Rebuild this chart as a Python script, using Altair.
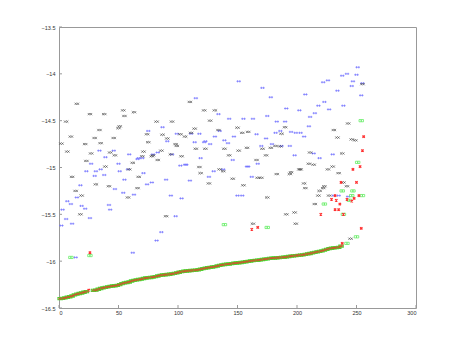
import altair as alt
import pandas as pd

# ---------------- data ----------------
black_x = [2, 6, 7, 10, 11, 14, 15, 18, 19, 22, 23, 26, 27, 30, 31, 34, 35, 38, 39, 42, 43, 46, 47,
           50, 51, 54, 55, 58, 59, 62, 63, 66, 67, 70, 71, 74, 75, 78, 79, 82, 83, 86, 87, 90, 91,
           94, 95, 98, 99, 102, 103, 106, 110, 111, 114, 115, 118, 119, 122, 123, 126, 127, 131,
           134, 135, 138, 139, 143, 146, 150, 151, 154, 155, 158, 159, 163, 166, 167, 170, 171,
           174, 175, 178, 182, 183, 186, 187, 190, 191, 194, 195, 198, 199, 202, 203, 206, 207,
           210, 211, 214, 215, 218, 219, 222, 223, 226, 227, 230, 231, 234, 235, 238, 239, 242,
           243, 246, 249, 245, 255]
black_y = [-14.745, -14.51, -14.83, -14.67, -15.10, -15.25, -14.32, -15.50, -15.30, -14.75, -14.93,
           -14.43, -14.85, -14.685, -15.18, -14.60, -14.74, -14.43, -14.99, -15.20, -14.84, -14.685,
           -14.87, -14.58, -14.56, -14.39, -14.45, -15.32, -15.02, -14.95, -14.41, -15.22, -15.10,
           -14.88, -14.83, -14.645, -14.73, -14.88, -14.87, -14.51, -14.92, -14.82, -14.65, -15.52,
           -14.69, -14.86, -14.51, -14.75, -14.77, -14.645, -14.88, -14.67, -14.30, -14.63, -14.585,
           -14.80, -14.995, -15.06, -14.39, -14.80, -15.17, -14.50, -14.39, -14.60, -15.02, -15.04,
           -14.80, -14.87, -15.12, -14.575, -14.82, -14.63, -15.19, -14.79, -14.62, -15.60, -14.92,
           -15.11, -15.11, -14.80, -14.87, -15.32, -14.79, -14.77, -15.07, -14.775, -14.64, -14.57,
           -15.50, -15.07, -15.05, -15.48, -15.60, -15.02, -15.02, -15.17, -15.22, -14.96, -14.84,
           -14.97, -15.39, -15.30, -15.25, -15.22, -15.20, -15.02, -15.30, -14.99, -14.60, -14.68,
           -15.06, -14.85, -15.16, -15.20, -14.53, -14.70, -14.71, -15.76, -14.11]

blue_x = [2, 3, 6, 7, 10, 11, 14, 15, 18, 19, 22, 23, 26, 27, 30, 31, 34, 35, 38, 39, 42, 43, 46, 47,
          50, 51, 54, 55, 58, 59, 62, 63, 66, 67, 70, 71, 74, 75, 78, 79, 82, 83, 86, 87, 90, 91,
          94, 95, 98, 99, 102, 103, 106, 107, 110, 111, 114, 115, 118, 119, 122, 123, 126, 127,
          130, 131, 134, 135, 138, 139, 142, 143, 146, 147, 150, 151, 154, 155, 158, 159, 162,
          163, 166, 167, 170, 171, 174, 175, 178, 179, 182, 183, 186, 187, 190, 191, 194, 195,
          198, 199, 202, 203, 206, 207, 210, 211, 214, 215, 218, 219, 222, 223, 226, 227, 230,
          231, 234, 235, 238, 239, 242, 243, 246, 247, 250, 251, 254, 255]
blue_y = [-15.62, -15.45, -15.55, -15.36, -15.39, -15.60, -15.96, -15.32, -15.19, -15.41, -15.44,
          -15.04, -15.54, -14.96, -15.09, -15.04, -14.82, -15.02, -15.08, -14.89, -15.40, -15.45,
          -14.82, -15.23, -14.96, -15.04, -15.27, -15.13, -15.02, -14.86, -15.91, -15.29, -14.91,
          -14.90, -14.90, -15.06, -15.18, -14.61, -15.16, -14.86, -15.78, -14.84, -15.69, -14.57,
          -15.13, -14.72, -15.30, -14.86, -15.52, -14.64, -14.98, -15.33, -14.97, -14.97, -15.14,
          -14.64, -14.73, -14.26, -14.64, -14.90, -14.73, -14.72, -15.10, -14.75, -15.04, -14.67,
          -14.43, -14.61, -15.02, -14.71, -14.74, -14.48, -14.92, -14.67, -15.30, -14.08, -15.30,
          -14.48, -14.99, -14.99, -15.10, -14.48, -14.645, -14.96, -14.77, -14.15, -14.69, -14.45,
          -14.25, -14.75, -14.63, -14.51, -14.61, -14.77, -14.51, -14.37, -14.77, -14.62, -14.87,
          -14.63, -14.39, -14.63, -14.67, -14.22, -14.56, -14.46, -14.85, -14.42, -14.34, -14.90,
          -14.09, -14.30, -14.07, -14.38, -14.86, -15.30, -14.18, -15.30, -14.02, -14.34, -14.00,
          -15.31, -14.13, -14.08, -14.01, -13.93, -14.23, -14.10]

green_x = [10, 26, 139, 175, 223, 238, 239, 244, 246, 247, 251, 254, 255, 250, 242]
green_y = [-15.96, -15.94, -15.61, -15.64, -15.39, -15.25, -15.50, -15.35, -15.30, -15.25, -14.945,
           -14.50, -15.30, -15.74, -15.81]

red_x = [26, 162, 167, 220, 229, 232, 232, 233, 235, 236, 237, 238, 242, 246, 247, 248, 250, 252,
         253, 255, 256, 254, 239, 25]
red_y = [-15.91, -15.66, -15.64, -15.50, -15.34, -15.30, -15.45, -15.35, -15.45, -15.39, -15.16,
         -15.81, -15.34, -15.36, -15.02, -15.33, -15.16, -15.30, -14.99, -14.82, -14.67, -15.65,
         -15.50, -16.31]

band_x = [1, 3, 5, 7, 9, 11, 13, 15, 17, 19, 21, 23, 29, 31, 33, 35, 37, 39, 41, 43, 45, 47, 49,
          51, 53, 55, 57, 59, 61, 63, 65, 67, 69, 71, 73, 75, 77, 79, 81, 83, 85, 87, 89, 91, 93,
          95, 97, 99, 101, 103, 105, 107, 109, 111, 113, 115, 117, 119, 121, 123, 125, 127, 129,
          131, 133, 135, 137, 139, 141, 143, 145, 147, 149, 151, 153, 155, 157, 159, 161, 163,
          165, 167, 169, 171, 173, 175, 177, 179, 181, 183, 185, 187, 189, 191, 193, 195, 197,
          199, 201, 203, 205, 207, 209, 211, 213, 215, 217, 219, 221, 223, 225, 227, 229, 231,
          233, 235, 237]
band_y = [-16.400, -16.398, -16.392, -16.385, -16.380, -16.372, -16.360, -16.352, -16.345, -16.340,
          -16.332, -16.325, -16.312, -16.310, -16.300, -16.292, -16.285, -16.280, -16.275, -16.270,
          -16.265, -16.262, -16.258, -16.250, -16.240, -16.232, -16.228, -16.222, -16.212, -16.205,
          -16.200, -16.196, -16.192, -16.185, -16.180, -16.176, -16.174, -16.170, -16.165, -16.158,
          -16.152, -16.148, -16.145, -16.142, -16.140, -16.136, -16.130, -16.125, -16.118, -16.112,
          -16.108, -16.105, -16.102, -16.100, -16.098, -16.096, -16.092, -16.086, -16.080, -16.075,
          -16.070, -16.066, -16.062, -16.058, -16.052, -16.045, -16.040, -16.036, -16.032, -16.030,
          -16.026, -16.022, -16.020, -16.017, -16.014, -16.010, -16.006, -16.002, -15.998, -15.994,
          -15.992, -15.990, -15.986, -15.982, -15.978, -15.975, -15.970, -15.968, -15.966, -15.964,
          -15.962, -15.960, -15.958, -15.955, -15.950, -15.946, -15.943, -15.940, -15.938, -15.935,
          -15.932, -15.928, -15.922, -15.918, -15.912, -15.906, -15.900, -15.896, -15.890, -15.882,
          -15.874, -15.866, -15.862, -15.858, -15.855, -15.852, -15.840]

x_ticks = [0, 50, 100, 150, 200, 250, 300]
y_ticks = [-16.5, -16, -15.5, -15, -14.5, -14, -13.5]

# ---------------- chart ----------------
W, H = 357, 281
FONT = "Liberation Sans"

xs = alt.Scale(domain=[0, 300], nice=False, zero=False)
ys = alt.Scale(domain=[-16.5, -13.5], nice=False, zero=False)

x_axis = alt.Axis(values=x_ticks, format="d", ticks=False, domain=False, grid=False,
                  labelFontSize=5.5, labelFont=FONT, labelColor="#333", labelPadding=2, title=None)
y_axis = alt.Axis(values=y_ticks, format="~g", ticks=False, domain=False, grid=False,
                  labelFontSize=5.5, labelFont=FONT, labelColor="#333", labelPadding=4, title=None)

DX = "M-1,-0.5L0,0.5M-1,0.5L0,-0.5M0,-0.5L1,0.5M0,0.5L1,-0.5"
DP = "M-1,0L1,0M-0.5,-0.5L-0.5,0.5M0.5,-0.5L0.5,0.5"
DS = "M-1,-0.5L0,-0.5L0,0.5L-1,0.5ZM0,-0.5L1,-0.5L1,0.5L0,0.5Z"
SX = "M-0.5,-0.5L0.5,0.5M-0.5,0.5L0.5,-0.5"


def pts(xv, yv, shape, color, size, sw):
    df = pd.DataFrame({"x": xv, "y": yv})
    return alt.Chart(df).mark_point(shape=shape, filled=False, stroke=color, size=size,
                                    strokeWidth=sw, opacity=1).encode(
        x=alt.X("x:Q", scale=xs, axis=x_axis, title=None),
        y=alt.Y("y:Q", scale=ys, axis=y_axis, title=None),
    )


blue = pts(blue_x, blue_y, DP, "#6f6fff", 20, 0.7)
black = pts(black_x, black_y, DX, "#3a3a3a", 20, 0.6)
green_band = pts(band_x, band_y, DS, "#44dd33", 20, 1.1)
red_band = pts(band_x, band_y, DX, "#d0502a", 14, 0.9)
green = pts(green_x, green_y, DS, "#66ee66", 20, 0.8)
red = pts(red_x, red_y, SX, "#ff3030", 22, 1.3)

xt = alt.Chart(pd.DataFrame({"t": x_ticks})).mark_rule(color="#999", strokeWidth=1).encode(
    x=alt.X("t:Q", scale=xs, axis=x_axis, title=None), y=alt.value(H), y2=alt.value(H - 3))
yt = alt.Chart(pd.DataFrame({"t": y_ticks})).mark_rule(color="#999", strokeWidth=1).encode(
    y=alt.Y("t:Q", scale=ys, axis=y_axis, title=None), x=alt.value(0), x2=alt.value(3))

chart = alt.layer(blue, black, green_band, red_band, green, red, xt, yt).properties(
    width=W, height=H,
    autosize=alt.AutoSizeParams(type="none"),
    padding={"left": 51, "top": 19, "right": 36, "bottom": 29},
    background="white",
).configure_view(stroke="#999", strokeWidth=1)

chart.save("out.html", embed_options={"renderer": "svg", "actions": False})
